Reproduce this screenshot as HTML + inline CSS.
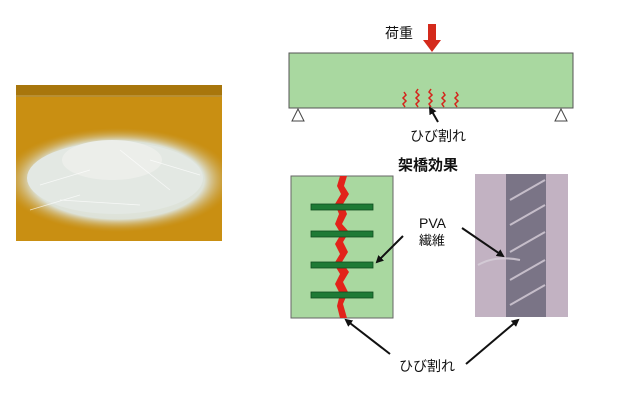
<!DOCTYPE html>
<html><head><meta charset="utf-8"><style>
html,body{margin:0;padding:0;background:#fff;width:630px;height:407px;overflow:hidden}
text{font-family:"Liberation Sans","Noto Sans CJK JP",sans-serif;fill:#111}
</style></head><body>
<svg width="630" height="407" viewBox="0 0 630 407" xmlns="http://www.w3.org/2000/svg">
<defs>
<marker id="ah" markerWidth="8" markerHeight="8" refX="6" refY="4" orient="auto" markerUnits="userSpaceOnUse"><path d="M0,0 L8,4 L0,8 z" fill="#111"/></marker>
<radialGradient id="pile" cx="0.5" cy="0.5" r="0.5"><stop offset="0" stop-color="#e8ece6"/><stop offset="0.75" stop-color="#dde2d8"/><stop offset="1" stop-color="#c8a040" stop-opacity="0"/></radialGradient>
<clipPath id="pc"><rect x="16" y="85" width="206" height="156"/></clipPath>
</defs>
<!-- fiber photo -->
<g clip-path="url(#pc)">
<rect x="16" y="85" width="206" height="156" fill="#c98f12"/>
<rect x="16" y="85" width="206" height="12" fill="#a8760c"/>
<line x1="16" y1="96" x2="222" y2="96" stroke="#c9a85a" stroke-width="1"/>
<ellipse cx="118" cy="180" rx="115" ry="52" fill="url(#pile)"/>
<ellipse cx="115" cy="178" rx="88" ry="36" fill="#e3e8e3"/>
<ellipse cx="112" cy="160" rx="50" ry="20" fill="#eceeea"/>
<g stroke="#fff" stroke-width="0.8" opacity="0.7">
<line x1="40" y1="185" x2="90" y2="170"/><line x1="120" y1="150" x2="170" y2="190"/><line x1="60" y1="200" x2="140" y2="205"/><line x1="150" y1="160" x2="200" y2="175"/><line x1="30" y1="210" x2="80" y2="195"/></g>
</g>
<!-- beam -->
<rect x="289" y="53" width="284" height="55" fill="#a9d8a0" stroke="#555" stroke-width="1"/>
<path d="M298,109 L292,121 L304,121 z" fill="#fff" stroke="#444"/>
<path d="M561,109 L555,121 L567,121 z" fill="#fff" stroke="#444"/>
<path d="M428,24 L436,24 L436,40 L441,40 L432,52 L423,40 L428,40 z" fill="#d42a1c"/>
<text x="385" y="38" font-size="14">荷重</text>
<g stroke="#d4241c" stroke-width="1.5" fill="none">
<path d="M405,107 l-2,-3 l3,-3 l-3,-3 l3,-3 l-2,-3"/>
<path d="M418,107 l-2,-3 l3,-3 l-3,-3 l3,-3 l-3,-3 l2,-3"/>
<path d="M431,107 l-2,-3 l3,-3 l-3,-3 l3,-3 l-3,-3 l2,-3"/>
<path d="M444,107 l-2,-3 l3,-3 l-3,-3 l3,-3 l-2,-3"/>
<path d="M457,107 l-2,-3 l3,-3 l-3,-3 l3,-3 l-2,-3"/>
</g>
<line x1="438" y1="122" x2="430" y2="108" stroke="#111" stroke-width="2" marker-end="url(#ah)"/>
<text x="410" y="141" font-size="14">ひび割れ</text>
<text x="398" y="170" font-size="15" font-weight="bold">架橋効果</text>
<!-- left panel -->
<rect x="291" y="176" width="102" height="142" fill="#a9d8a0" stroke="#666" stroke-width="1"/>
<path d="M340,176 L347,176 L344,186 L349,194 L343,204 L347,214 L342,224 L349,232 L343,242 L348,252 L342,262 L349,272 L343,282 L348,292 L343,304 L347,318 L340,318 L337,306 L340,294 L335,284 L340,274 L334,264 L340,254 L335,244 L341,234 L335,224 L339,214 L335,204 L341,194 L337,186 z" fill="#e2231a"/>
<g fill="#1e7a35" stroke="#0f4d1f" stroke-width="0.8">
<rect x="311" y="204" width="62" height="6"/><rect x="311" y="231" width="62" height="6"/>
<rect x="311" y="262" width="62" height="6"/><rect x="311" y="292" width="62" height="6"/></g>
<!-- right photo -->
<rect x="475" y="174" width="93" height="143" fill="#c2b2c2"/>
<rect x="506" y="174" width="40" height="143" fill="#7a7486"/>
<g stroke="#d8d0da" stroke-width="2" opacity="0.8" fill="none">
<line x1="510" y1="200" x2="545" y2="180"/><line x1="510" y1="225" x2="545" y2="205"/><line x1="510" y1="252" x2="545" y2="232"/><line x1="510" y1="280" x2="545" y2="260"/><line x1="510" y1="305" x2="545" y2="285"/>
<path d="M478,265 Q495,255 520,260"/></g>
<text x="419" y="228" font-size="14">PVA</text>
<text x="419" y="245" font-size="13">繊維</text>
<line x1="403" y1="236" x2="377" y2="262" stroke="#111" stroke-width="2" marker-end="url(#ah)"/>
<line x1="462" y1="228" x2="503" y2="256" stroke="#111" stroke-width="2" marker-end="url(#ah)"/>
<line x1="390" y1="354" x2="346" y2="320" stroke="#111" stroke-width="2" marker-end="url(#ah)"/>
<line x1="466" y1="364" x2="518" y2="320" stroke="#111" stroke-width="2" marker-end="url(#ah)"/>
<text x="399" y="371" font-size="14">ひび割れ</text>
</svg>
</body></html>
